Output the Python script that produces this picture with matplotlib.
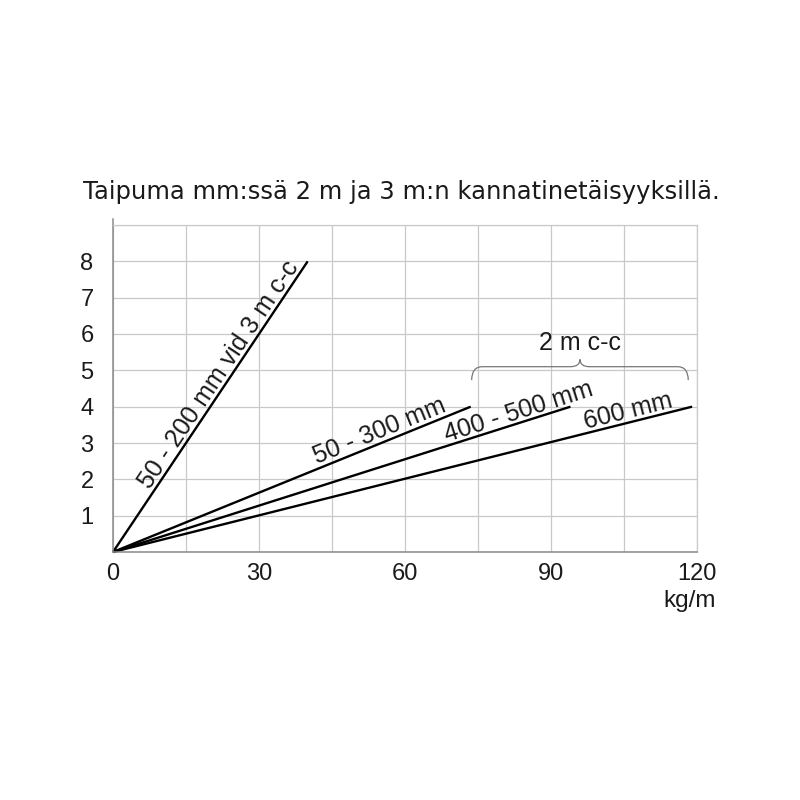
import numpy as np
import matplotlib
matplotlib.use("Agg")
import matplotlib.pyplot as plt
import matplotlib.transforms as mtransforms
from matplotlib.path import Path
from matplotlib.patches import PathPatch

# kuorma kg/m -> taipuma mm (suoran loppupiste)
series_names = ["50 - 200 mm vid 3 m c-c", "50 - 300 mm", "400 - 500 mm", "600 mm"]
end_load = [40, 73.5, 94, 119]
end_defl = [8, 4, 4, 4]

# tekstin keskikohta suoran pituudesta (osuus)
label_pos = [0.59, 0.758, 0.894, 0.894]

x_ticks = [0, 30, 60, 90, 120]
y_ticks = [1, 2, 3, 4, 5, 6, 7, 8]

title = "Taipuma mm:ssä 2 m ja 3 m:n kannatinetäisyyksillä."
brace_text = "2 m c-c"
x_unit = "kg/m"

plt.rcParams["font.family"] = ["Liberation Sans", "DejaVu Sans"]
txt_c = "#1a1a1a"

fig = plt.figure(figsize=(8, 8), dpi=100)
ax = fig.add_axes([113 / 800, 1 - 552 / 800, 584 / 800, 327 / 800])

grid_c = "#c9c9c9"
ax.set_xlim(0, 120)
ax.set_ylim(0, 9)
ax.set_xticks(np.arange(0, 121, 15))
ax.set_yticks(np.arange(0, 10, 1))
ax.grid(True, color=grid_c, lw=0.9)
ax.set_axisbelow(True)
ax.tick_params(length=0, labelsize=17, labelcolor=txt_c)
ax.tick_params(axis="x", pad=8)
ax.tick_params(axis="y", pad=14)
ax.set_xticklabels([str(v) if v in x_ticks else "" for v in np.arange(0, 121, 15)])
ax.set_yticklabels([str(v) if v in y_ticks else "" for v in range(10)])
for s in ["top", "right"]:
    ax.spines[s].set_color(grid_c)
    ax.spines[s].set_linewidth(0.9)
for s in ["left", "bottom"]:
    ax.spines[s].set_color("#8a8a8a")
    ax.spines[s].set_linewidth(1.1)
ax.spines["left"].set_bounds(0, 9.17)

for xe, ye in zip(end_load, end_defl):
    ax.plot([0, xe], [0, ye], color="black", lw=1.7, solid_capstyle="butt", clip_on=False)

for name, xe, ye, f in zip(series_names, end_load, end_defl, label_pos):
    p0, p1 = ax.transData.transform([(0, 0), (xe, ye)])
    ang = np.degrees(np.arctan2(p1[1] - p0[1], p1[0] - p0[0]))
    # pieni siirto kohtisuoraan suoraa vasten
    dx = -np.sin(np.radians(ang)) * 3
    dy = np.cos(np.radians(ang)) * 3
    tr = mtransforms.offset_copy(ax.transData, fig=fig, x=dx, y=dy, units="points")
    ax.text(xe * f, ye * f, name, transform=tr, rotation=ang, rotation_mode="anchor",
            ha="center", va="baseline", fontsize=18, color=txt_c)

# aaltosulje 2 m c-c -ryhmän yläpuolelle
bx0, bx1 = 73.7, 118.2
bxm = (bx0 + bx1) / 2
yb, yf, yt = 4.73, 5.1, 5.3
verts = [(bx0, yb), (bx0, yf), (bx0 + 2.2, yf),
         (bxm - 2, yf), (bxm, yf), (bxm, yt),
         (bxm, yf), (bxm + 2, yf),
         (bx1 - 2.2, yf), (bx1, yf), (bx1, yb)]
codes = [Path.MOVETO, Path.CURVE3, Path.CURVE3,
         Path.LINETO, Path.CURVE3, Path.CURVE3,
         Path.CURVE3, Path.CURVE3,
         Path.LINETO, Path.CURVE3, Path.CURVE3]
ax.add_patch(PathPatch(Path(verts, codes), fill=False, ec="#777777", lw=0.9, clip_on=False))
ax.text(bxm, (552 - 350) / 36.33, brace_text, ha="center", va="baseline", fontsize=18, color=txt_c)

fig.text(401 / 800, 1 - 199.5 / 800, title, ha="center", va="baseline", fontsize=17.5,
         color=txt_c, family="DejaVu Sans")
fig.text(716 / 800, 1 - 607 / 800, x_unit, ha="right", va="baseline", fontsize=17.5, color=txt_c)

fig.savefig("out.png", dpi=100, facecolor="white")
